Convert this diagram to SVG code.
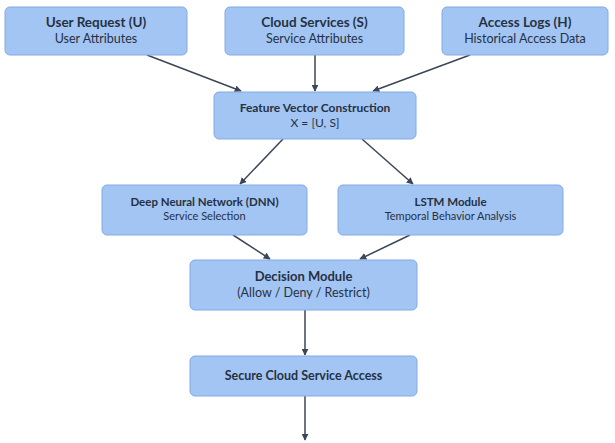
<svg xmlns="http://www.w3.org/2000/svg" width="615" height="443" viewBox="0 0 615 443">
<defs>
<marker id="ah" viewBox="0 0 10 10" refX="9" refY="5" markerWidth="7" markerHeight="7" orient="auto" markerUnits="userSpaceOnUse"><path d="M0,0 L10,5 L0,10 z" fill="#3b4658"/></marker>
<style>
.box{fill:#a3c5f4;stroke:#82aae3;stroke-width:1}
.t{font-family:Lato,"Noto Sans",sans-serif;font-weight:bold;fill:#263142;text-anchor:middle}
.s{font-family:Lato,"Noto Sans",sans-serif;fill:#263142;text-anchor:middle}
.c{stroke:#3b4658;stroke-width:1.5;fill:none;marker-end:url(#ah)}
</style>
</defs>
<rect width="615" height="443" fill="#ffffff"/>
<g id="connectors">
<line class="c" x1="147" y1="55" x2="241" y2="91"/>
<line class="c" x1="315" y1="55" x2="315" y2="91"/>
<line class="c" x1="470" y1="55" x2="373" y2="91"/>
<line class="c" x1="283" y1="139" x2="240" y2="184"/>
<line class="c" x1="362" y1="139" x2="413" y2="184"/>
<line class="c" x1="233" y1="235" x2="270" y2="259"/>
<line class="c" x1="410" y1="235" x2="360" y2="259"/>
<line class="c" x1="305" y1="310" x2="305" y2="355"/>
<line class="c" x1="305" y1="396" x2="305" y2="440"/>
</g>
<g id="user">
<rect class="box" x="5" y="7" width="182" height="48" rx="5"/>
<text class="t" x="96" y="27" font-size="13.5">User Request (U)</text>
<text class="s" x="96" y="43" font-size="12.5">User Attributes</text>
</g>
<g id="cloud">
<rect class="box" x="225" y="7" width="179" height="48" rx="5"/>
<text class="t" x="314.5" y="27" font-size="13.5">Cloud Services (S)</text>
<text class="s" x="314.5" y="43" font-size="12.5">Service Attributes</text>
</g>
<g id="logs">
<rect class="box" x="442" y="7" width="166" height="48" rx="5"/>
<text class="t" x="525" y="27" font-size="13.5">Access Logs (H)</text>
<text class="s" x="525" y="43" font-size="12.5">Historical Access Data</text>
</g>
<g id="feature">
<rect class="box" x="214" y="92" width="202" height="47" rx="5"/>
<text class="t" x="315" y="112" font-size="12">Feature Vector Construction</text>
<text class="s" x="315" y="127" font-size="12">X = [U, S]</text>
</g>
<g id="dnn">
<rect class="box" x="102" y="185" width="205" height="50" rx="5"/>
<text class="t" x="204.5" y="206" font-size="11.5">Deep Neural Network (DNN)</text>
<text class="s" x="204.5" y="220" font-size="11">Service Selection</text>
</g>
<g id="lstm">
<rect class="box" x="338" y="185" width="225" height="50" rx="5"/>
<text class="t" x="450.5" y="206" font-size="11.5">LSTM Module</text>
<text class="s" x="450.5" y="220" font-size="11">Temporal Behavior Analysis</text>
</g>
<g id="decision">
<rect class="box" x="190" y="260" width="227" height="50" rx="5"/>
<text class="t" x="303.5" y="281" font-size="13">Decision Module</text>
<text class="s" x="303.5" y="297" font-size="12.5">(Allow / Deny / Restrict)</text>
</g>
<g id="secure">
<rect class="box" x="190" y="356" width="227" height="40" rx="5"/>
<text class="t" x="303.5" y="380" font-size="12.5">Secure Cloud Service Access</text>
</g>
</svg>
